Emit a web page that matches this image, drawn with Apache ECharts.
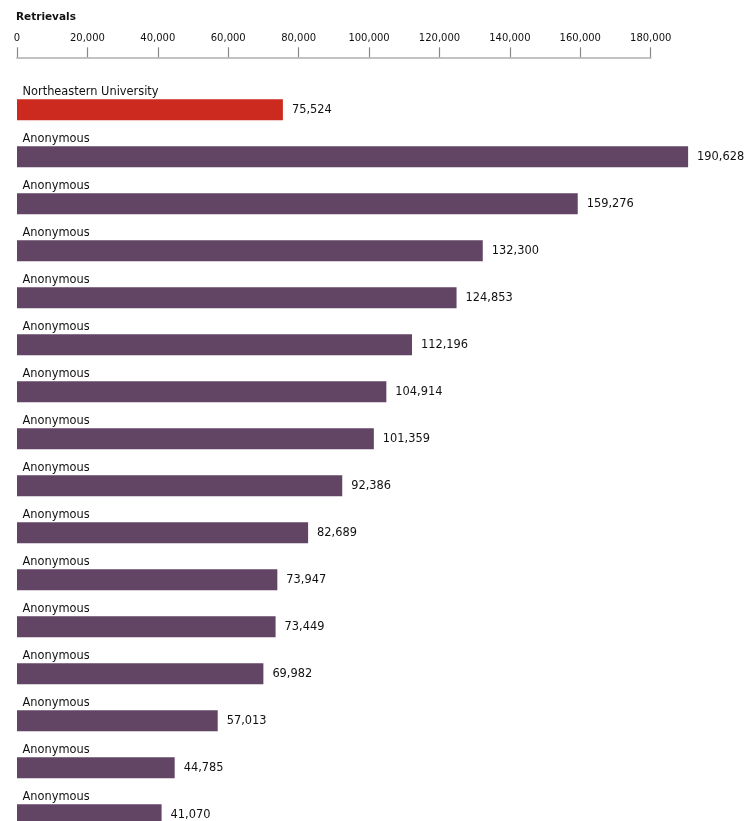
<!DOCTYPE html>
<html>
<head>
<meta charset="utf-8">
<script src="https://cdn.jsdelivr.net/npm/echarts@6/dist/echarts.min.js"></script>
<style>html,body{margin:0;padding:0;background:#fff;overflow:hidden;width:744px;height:821px;}#chart{width:744px;height:840px;}</style>
</head>
<body>
<div id="chart"></div>
<script>
var categories = ["Northeastern University","Anonymous","Anonymous","Anonymous","Anonymous","Anonymous","Anonymous","Anonymous","Anonymous","Anonymous","Anonymous","Anonymous","Anonymous","Anonymous","Anonymous","Anonymous"];
var retrievals = [75524,190628,159276,132300,124853,112196,104914,101359,92386,82689,73947,73449,69982,57013,44785,41070];
var highlighted = [true,false,false,false,false,false,false,false,false,false,false,false,false,false,false,false];
var axisTicks = [0,20000,40000,60000,80000,100000,120000,140000,160000,180000];

var RED = '#cc2a1e', PURPLE = '#624464';
var FONT = 'DejaVu Sans';
var chart = echarts.init(document.getElementById('chart'));
chart.setOption({
  animation: false,
  backgroundColor: '#fff',
  title: {
    text: 'Retrievals', left: 11, top: 7,
    textStyle: {fontFamily: FONT, fontSize: 10.5, fontWeight: 'bold', color: '#111'}
  },
  grid: {left: 17, right: 93.3, top: 86.2, height: 752},
  xAxis: {
    type: 'value', position: 'top', offset: 28.9,
    min: axisTicks[0], max: axisTicks[axisTicks.length - 1], interval: axisTicks[1] - axisTicks[0],
    axisLine: {show: true, lineStyle: {color: '#c2c2c2', width: 2}},
    axisTick: {show: true, length: 10, lineStyle: {color: '#888', width: 1.2}},
    splitLine: {show: false},
    axisLabel: {
      margin: 14, fontFamily: FONT, fontSize: 10, color: '#111',
      formatter: function (v) { return v.toLocaleString('en-US'); }
    }
  },
  yAxis: {
    type: 'category', inverse: true, data: categories,
    axisLine: {show: false}, axisTick: {show: false}, axisLabel: {show: false}
  },
  series: [{
    type: 'bar',
    clip: false,
    barWidth: 21,
    data: retrievals.map(function (v, i) {
      return {value: v, itemStyle: {color: highlighted[i] ? RED : PURPLE}};
    }),
    label: {
      show: true, position: 'right', distance: 9,
      fontFamily: FONT, fontSize: 11.4, color: '#111',
      formatter: function (p) { return p.value.toLocaleString('en-US'); }
    }
  }, {
    type: 'bar',
    clip: false,
    barWidth: 21,
    barGap: '-100%',
    silent: true,
    itemStyle: {color: 'rgba(0,0,0,0)'},
    data: retrievals,
    label: {
      show: true, position: [5.5, -7.5], verticalAlign: 'middle', align: 'left',
      fontFamily: FONT, fontSize: 11.4, color: '#111',
      formatter: function (p) { return p.name; }
    }
  }]
});
</script>
</body>
</html>
